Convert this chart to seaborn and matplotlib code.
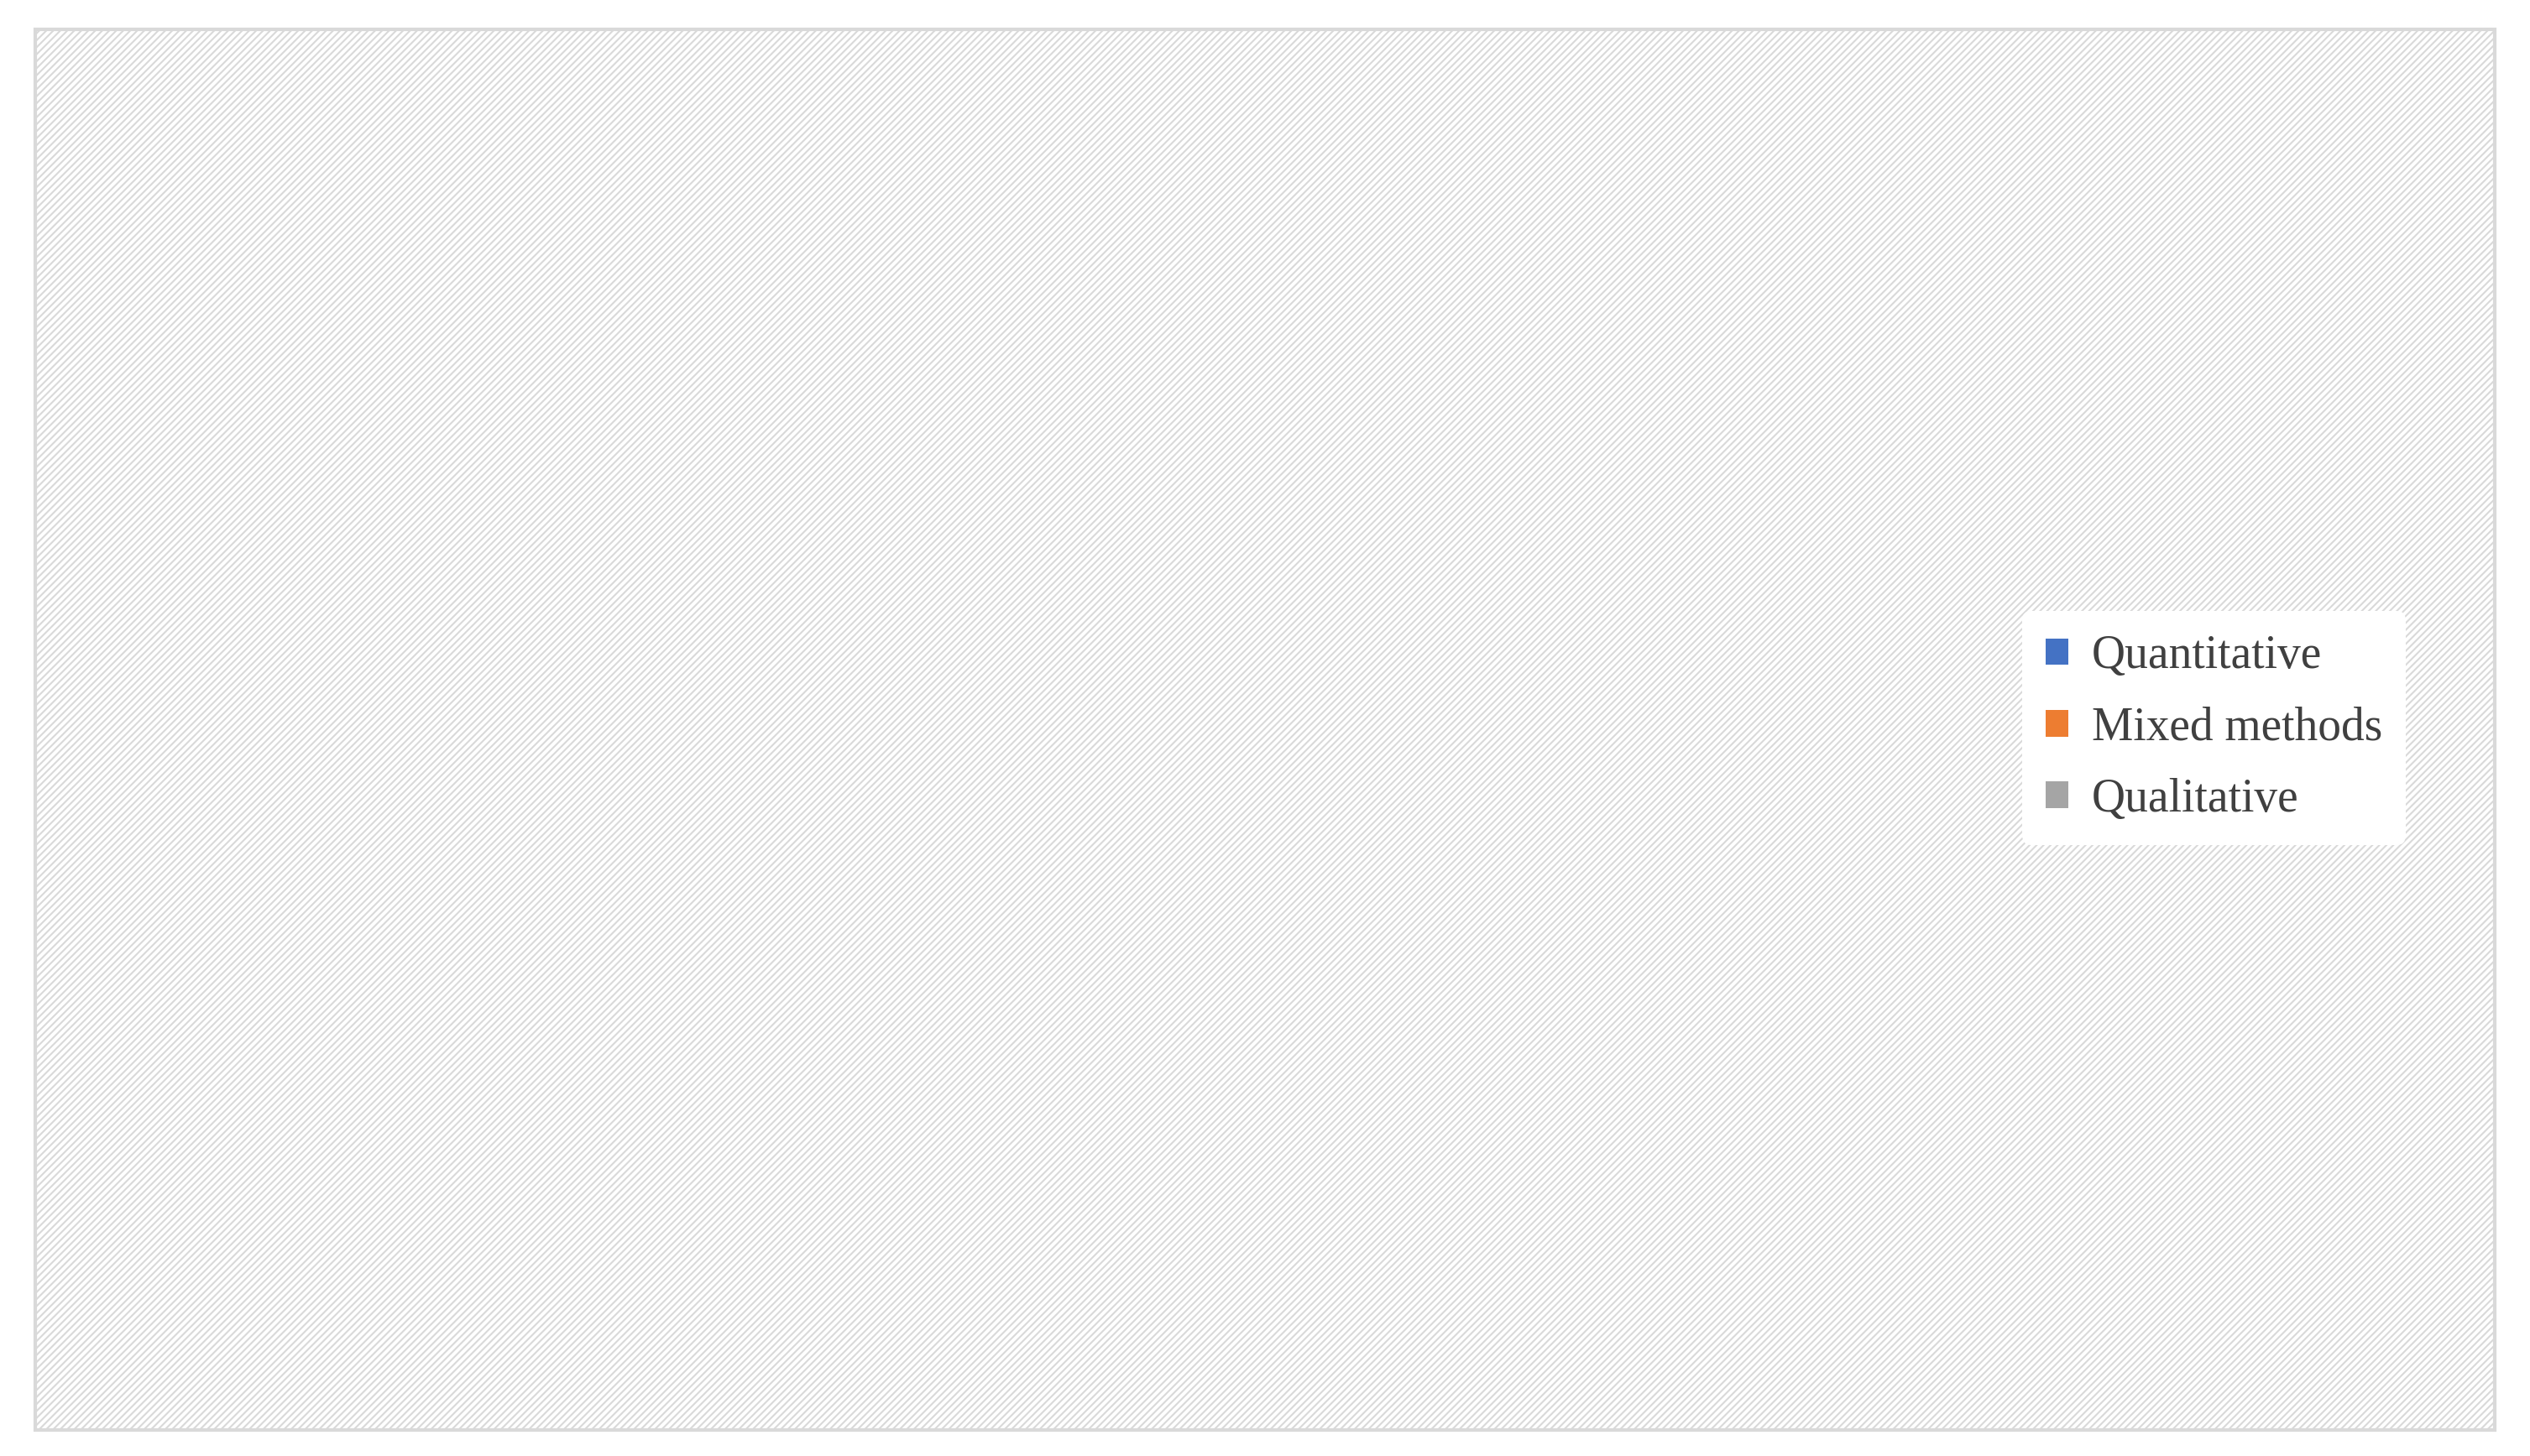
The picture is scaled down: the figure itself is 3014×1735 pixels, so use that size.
import numpy as np
import matplotlib
matplotlib.use("Agg")
import matplotlib.pyplot as plt
import seaborn as sns
from matplotlib.patches import Rectangle, Patch
from matplotlib.colors import LinearSegmentedColormap

sns.set_theme(style="white")
plt.rcParams['font.family'] = ['Liberation Serif', 'DejaVu Serif']
plt.rcParams['hatch.color'] = '#D0D0D0'
plt.rcParams['hatch.linewidth'] = 1.5

categories = ["Quantitative", "Mixed methods", "Qualitative"]
counts = [20, 7, 5]
top_colors = ["#4472C4", "#ED7D31", "#A5A5A5"]
bottom_colors = ["#8FAADC", "#F4B183", "#C9C9C9"]
text_color = "#404040"

fig = plt.figure(figsize=(30.14, 17.35), dpi=100)
fig.patch.set_facecolor("white")
bg = Rectangle((0.014, 0.018), 0.972, 0.962, transform=fig.transFigure,
               facecolor="white", edgecolor="#D9D9D9", hatch="////", lw=3, zorder=0)
fig.patches.append(bg)

ax = fig.add_axes([0.4005 - 0.2425, 0.5014 - 0.42135, 0.485, 0.8427])
total = sum(counts)
wedges, texts = ax.pie(counts, startangle=90, counterclock=False, radius=1,
                       wedgeprops=dict(edgecolor="white", linewidth=5),
                       labels=[f"{c} ({round(100*c/total)}%)" for c in counts],
                       labeldistance=0.5, textprops=dict(fontsize=40, color=text_color,
                                                         ha="center", va="center"))
ax.set_aspect("equal")
ax.axis("off")
ax.patch.set_alpha(0)

for w, tc, bc in zip(wedges, top_colors, bottom_colors):
    cmap = LinearSegmentedColormap.from_list("g", [bc, tc])
    grad = np.linspace(0, 1, 256).reshape(-1, 1)
    im = ax.imshow(grad, cmap=cmap, extent=(-1, 1, -1, 1), origin="lower",
                   aspect="auto", zorder=w.get_zorder() - 0.1)
    im.set_clip_path(w)
    w.set_facecolor("none")
ax.set_xlim(-1.02, 1.02)
ax.set_ylim(-1.02, 1.02)
for t in texts:
    t.set_zorder(5)

handles = [Patch(facecolor=tc, edgecolor="none") for tc in top_colors]
leg = fig.legend(handles, categories, loc="center left", bbox_to_anchor=(0.79, 0.5),
                 fontsize=40, frameon=True, facecolor="white", edgecolor="none",
                 handlelength=0.5, handleheight=0.5, handletextpad=0.5, labelspacing=0.6,
                 framealpha=1, borderpad=0.5)
for t in leg.get_texts():
    t.set_color(text_color)

fig.savefig("out.png", dpi=100, facecolor="white")
